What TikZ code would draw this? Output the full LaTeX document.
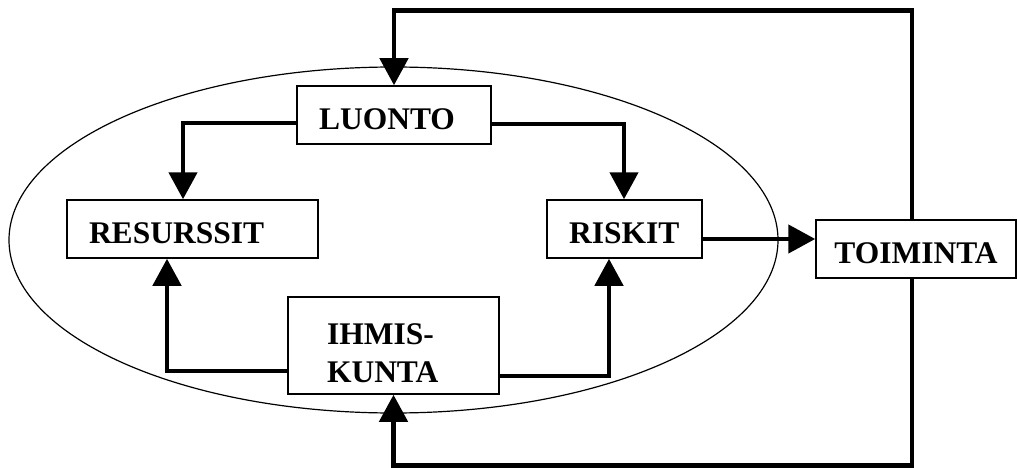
\documentclass[tikz,border=0pt]{standalone}
\usepackage{fontspec}
\setmainfont{Liberation Serif}
\usetikzlibrary{arrows.meta}
\begin{document}
\begin{tikzpicture}[x=1pt,y=-1pt,
  box/.style={draw,line width=1.5pt,fill=white,inner ysep=0pt,minimum height=58pt,
    font=\fontsize{31.5}{38}\selectfont\bfseries,align=left},
  onel/.style={text height=28pt,text depth=0pt},
  conn/.style={line width=4.6pt,-{Triangle[width=28pt,length=27pt]}},
  oval/.style={line width=1.2pt}]
\useasboundingbox (0,0) rectangle (1017,468);
\draw[oval] (393.5,240) ellipse [x radius=384.5pt, y radius=173pt];
\node[box,onel,inner xsep=22pt,text width=150pt] (luonto) at (394,115) {LUONTO};
\node[box,onel,inner xsep=22pt,text width=207pt] (resurssit) at (192.5,229) {RESURSSIT};
\node[box,onel,inner xsep=22pt,text width=111pt] (riskit) at (624.5,229) {RISKIT};
\node[box,onel,inner xsep=17pt,minimum width=200pt,align=center] (toiminta) at (916,249) {TOIMINTA};
\node[box,inner xsep=39pt,text width=133pt,text height=37pt,minimum height=97pt] (ihmis) at (393.5,345.5) {IHMIS-\\KUNTA};
\draw[conn] ([xshift=-4pt]toiminta.north) -- ++(0,-209) -| (luonto.north);
\draw[conn] ([xshift=-4pt]toiminta.south) -- ++(0,187) -| (ihmis.south);
\draw[conn] ([yshift=-8pt]luonto.west) -| ([xshift=-9.5pt]resurssit.north);
\draw[conn] ([yshift=-9pt]luonto.east) -| ([xshift=-0.5pt]riskit.north);
\draw[conn] ([yshift=-25.5pt]ihmis.west) -| ([xshift=-25.5pt]resurssit.south);
\draw[conn] ([yshift=-30.5pt]ihmis.east) -| ([xshift=-15.5pt]riskit.south);
\draw[conn] ([yshift=-10pt]riskit.east) -- ([yshift=10pt]toiminta.west);
\end{tikzpicture}
\end{document}
